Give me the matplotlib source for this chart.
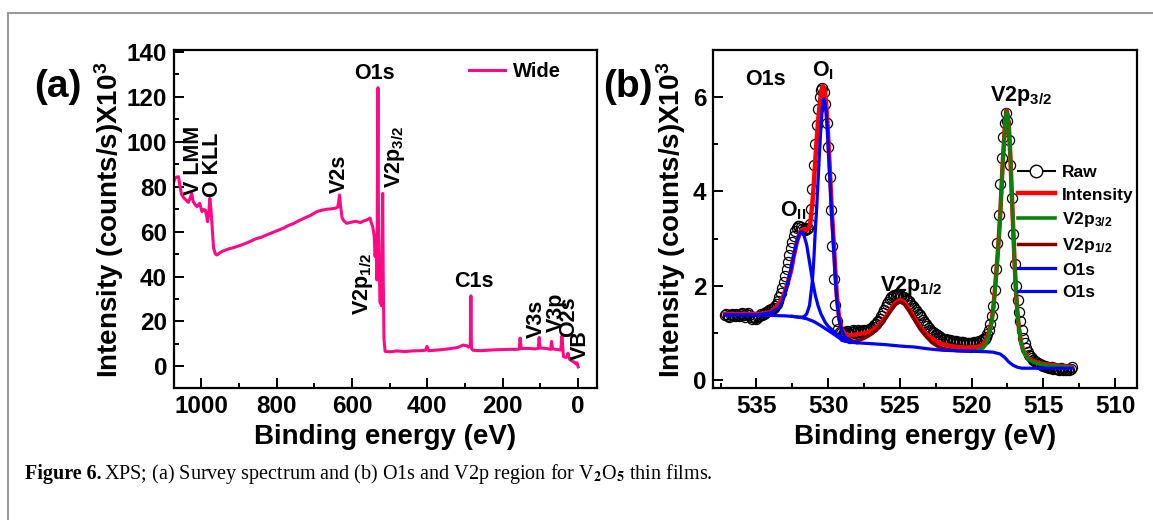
import numpy as np
import matplotlib
matplotlib.use('Agg')
import matplotlib.pyplot as plt
from matplotlib.lines import Line2D
from matplotlib.patches import Rectangle
from matplotlib.ticker import MultipleLocator

plt.rcParams['font.family'] = ['Liberation Sans', 'DejaVu Sans']
plt.rcParams['font.weight'] = 'bold'
plt.rcParams['mathtext.fontset'] = 'custom'
plt.rcParams['mathtext.rm'] = 'Liberation Sans:bold'
plt.rcParams['mathtext.it'] = 'Liberation Sans:bold'
plt.rcParams['mathtext.bf'] = 'Liberation Sans:bold'

# ---- (a) survey spectrum (eV, counts/s x1e3)
wide_be = [1072, 1068, 1064, 1060, 1056, 1052, 1046, 1040, 1034, 1030, 1025, 1021, 1016, 1011, 1004,
           998, 993, 989, 985, 983, 980, 977, 974, 970, 967, 962, 958, 952, 945, 935, 925, 915, 905,
           895, 885, 870, 855, 840, 825, 810, 795, 782, 770, 755, 740, 725, 710, 693, 680, 665, 655,
           645, 638, 635, 633, 630, 626, 621, 614, 600, 590, 578, 568, 560, 552, 548, 545, 541, 538.5,
           536, 534, 533, 531, 529.5, 528, 526.5, 525, 523.5, 522, 520, 518.5, 517, 515, 512, 500, 480,
           460, 440, 420, 405, 401, 397, 380, 360, 340, 320, 305, 296, 290, 286, 284.5, 283, 279, 260,
           240, 220, 200, 180, 160, 156, 154, 151, 130, 115, 106, 103.5, 101, 85, 73, 70.5, 68, 55, 46,
           43, 40.5, 39, 33, 29, 27, 25, 22, 18, 12, 8, 5, 3, 0]
wide_int = [82.5, 84.0, 84.3, 84.4, 80.0, 76.5, 75.0, 74.0, 73.0, 74.5, 77.0, 73.3, 72.0, 71.1, 72.6,
            68.9, 69.8, 69.6, 66.5, 64.4, 68.0, 74.8, 70.0, 60.0, 52.6, 50.0, 49.6, 50.4, 51.1, 51.8,
            52.4, 52.8, 53.4, 53.9, 54.6, 55.6, 56.8, 57.5, 58.6, 59.6, 60.6, 61.5, 62.6, 63.6, 64.9,
            66.1, 67.2, 68.9, 69.5, 70.0, 70.1, 70.4, 70.8, 73.5, 76.3, 71.0, 66.0, 64.7, 63.7, 64.2,
            64.6, 64.0, 64.8, 65.2, 66.0, 63.5, 62.2, 58.0, 48.9, 58.0, 38.5, 60.0, 124.0, 58.0, 45.0,
            36.0, 28.2, 45.0, 27.0, 55.0, 77.0, 40.0, 12.0, 6.7, 6.5, 6.9, 6.6, 6.9, 7.0, 7.2, 8.9, 7.0,
            7.2, 7.5, 7.9, 8.4, 9.5, 9.2, 8.6, 9.5, 31.4, 8.0, 7.2, 7.0, 7.2, 7.4, 7.5, 7.6, 7.6, 7.8,
            12.6, 8.0, 8.0, 7.8, 8.0, 12.9, 8.2, 8.0, 7.6, 11.1, 7.8, 7.5, 7.3, 13.6, 8.0, 4.4, 4.0,
            4.5, 5.9, 4.2, 3.0, 2.6, 2.0, 1.6, 1.0, 1.6, -0.2]

# ---- (b) O1s + V2p region; raw points every 0.1 eV starting at 537.2 eV
raw_int = [1.37, 1.39,
           1.36, 1.33, 1.37, 1.40, 1.38, 1.35, 1.41, 1.38, 1.36, 1.40,
           1.42, 1.37, 1.34, 1.39, 1.43, 1.38, 1.33, 1.30, 1.34, 1.31,
           1.29, 1.33, 1.36, 1.40, 1.38, 1.41, 1.43, 1.44, 1.46, 1.48,
           1.50, 1.50, 1.53, 1.57, 1.62, 1.68, 1.76, 1.85, 1.95, 2.07,
           2.20, 2.35, 2.50, 2.65, 2.80, 2.93, 3.05, 3.15, 3.22, 3.26,
           3.27, 3.24, 3.20, 3.18, 3.18, 3.20, 3.22, 3.30, 3.62, 4.05,
           4.55, 5.00, 5.40, 5.75, 6.00, 6.15, 6.19, 6.10, 5.85, 5.45,
           4.95, 4.30, 3.60, 2.85, 2.15, 1.60, 1.25, 1.08, 1.02, 1.00,
           0.98, 1.00, 1.02, 1.04, 1.00, 0.97, 1.01, 1.05, 1.03, 0.99,
           1.02, 1.06, 1.04, 1.01, 1.05, 1.03, 1.05, 1.07, 1.06, 1.08,
           1.10, 1.13, 1.16, 1.19, 1.22, 1.26, 1.30, 1.36, 1.42, 1.48,
           1.55, 1.61, 1.66, 1.71, 1.75, 1.78, 1.80, 1.81, 1.82, 1.81,
           1.80, 1.79, 1.77, 1.75, 1.72, 1.70, 1.67, 1.64, 1.60, 1.57,
           1.53, 1.49, 1.45, 1.41, 1.37, 1.33, 1.28, 1.24, 1.19, 1.15,
           1.11, 1.07, 1.04, 1.01, 0.99, 0.97, 0.95, 0.93, 0.91, 0.89,
           0.88, 0.87, 0.86, 0.85, 0.84, 0.84, 0.83, 0.83, 0.82, 0.82,
           0.81, 0.81, 0.80, 0.80, 0.80, 0.79, 0.79, 0.79, 0.79, 0.79,
           0.79, 0.79, 0.80, 0.80, 0.81, 0.82, 0.83, 0.84, 0.86, 0.88,
           0.92, 0.97, 1.05, 1.18, 1.35, 1.58, 1.90, 2.35, 2.90, 3.50,
           4.15, 4.70, 5.15, 5.45, 5.66, 5.50, 5.10, 4.55, 3.85, 3.10,
           2.45, 2.00, 1.70, 1.45, 1.25, 1.06, 0.90, 0.78, 0.68, 0.60,
           0.54, 0.50, 0.46, 0.43, 0.41, 0.38, 0.36, 0.34, 0.33, 0.31,
           0.30, 0.29, 0.27, 0.28, 0.26, 0.25, 0.27, 0.24, 0.25, 0.23,
           0.24, 0.22, 0.25, 0.23, 0.21, 0.24, 0.22, 0.23, 0.21, 0.24,
           0.28]
raw_be = 537.2 - 0.1 * np.arange(len(raw_int))

fit_be = [537.2, 536, 535, 534.5, 534, 533.6, 533.2, 532.9, 532.6, 532.4, 532.2, 532.0, 531.85, 531.7,
          531.5, 531.35, 531.25, 531.1, 531.0, 530.9, 530.8, 530.7, 530.6, 530.5, 530.4, 530.35, 530.25,
          530.15, 530.05, 529.95, 529.85, 529.75, 529.6, 529.5, 529.4, 529.25, 529.1, 528.9, 528.7,
          528.3, 528, 527.5, 527, 526.5, 526, 525.6, 525.3, 525.0, 524.7, 524.4, 524.0, 523.6, 523.2,
          522.8, 522.4, 522, 521.5, 521, 520.5, 520, 519.5, 519.2, 519, 518.8, 518.6, 518.45, 518.3,
          518.15, 518.0, 517.85, 517.7, 517.58, 517.5, 517.4, 517.3, 517.2, 517.1, 517.0, 516.9, 516.8,
          516.7, 516.55, 516.4, 516.2, 516.0, 515.7, 515.3, 515, 514.5, 514, 513.5, 513]
fit_int = [1.40, 1.40, 1.40, 1.41, 1.44, 1.55, 1.72, 1.98, 2.30, 2.62, 2.90, 3.10, 3.18, 3.20, 3.18,
           3.22, 3.32, 3.75, 4.15, 4.65, 5.10, 5.50, 5.82, 6.08, 6.22, 6.24, 6.15, 5.90, 5.45, 4.85,
           4.25, 3.60, 2.85, 2.30, 1.80, 1.35, 1.12, 1.00, 0.95, 0.95, 0.97, 0.99, 1.04, 1.15, 1.33,
           1.52, 1.64, 1.70, 1.65, 1.52, 1.32, 1.13, 0.99, 0.89, 0.81, 0.76, 0.72, 0.70, 0.69, 0.69,
           0.71, 0.76, 0.83, 1.00, 1.25, 1.65, 2.20, 2.80, 3.55, 4.50, 5.30, 5.72, 5.65, 5.35, 4.75,
           3.95, 3.20, 2.45, 1.85, 1.40, 1.10, 0.80, 0.62, 0.52, 0.45, 0.40, 0.36, 0.34, 0.32, 0.30,
           0.29, 0.28]

v32_be = [520, 519.5, 519.2, 519, 518.8, 518.6, 518.45, 518.3, 518.15, 518.0, 517.85, 517.7, 517.58,
          517.5, 517.4, 517.3, 517.2, 517.1, 517.0, 516.9, 516.8, 516.7, 516.55, 516.4, 516.2, 516.0,
          515.7, 515.3, 515, 514.5, 514, 513.5, 513]
v32_int = [0.61, 0.63, 0.68, 0.75, 0.95, 1.22, 1.62, 2.18, 2.78, 3.53, 4.48, 5.28, 5.70, 5.63, 5.33,
           4.73, 3.93, 3.18, 2.43, 1.83, 1.38, 1.08, 0.78, 0.60, 0.50, 0.43, 0.38, 0.34, 0.32, 0.30,
           0.29, 0.28, 0.27]

v12_be = [529, 528.5, 528, 527.5, 527, 526.5, 526, 525.6, 525.3, 525.0, 524.7, 524.4, 524.0, 523.6,
          523.2, 522.8, 522.4, 522, 521.5, 521, 520.5, 520]
v12_int = [0.84, 0.81, 0.83, 0.88, 0.97, 1.10, 1.30, 1.48, 1.60, 1.66, 1.61, 1.48, 1.28, 1.08, 0.93,
           0.80, 0.72, 0.67, 0.64, 0.62, 0.615, 0.61]

o2_be = [537.2, 535, 534.5, 534, 533.5, 533.2, 533, 532.8, 532.6, 532.4, 532.2, 532.0, 531.85, 531.7,
         531.5, 531.3, 531.1, 530.9, 530.7, 530.5, 530.2, 530.0, 529.6, 529.2, 528.8, 528.5]
o2_int = [1.38, 1.38, 1.40, 1.43, 1.52, 1.65, 1.84, 2.08, 2.35, 2.65, 2.92, 3.10, 3.15, 3.08, 2.87,
          2.50, 2.12, 1.80, 1.57, 1.40, 1.22, 1.14, 1.03, 0.92, 0.86, 0.80]

o1_be = [532.5, 532, 531.7, 531.5, 531.3, 531.1, 531.0, 530.9, 530.8, 530.7, 530.6, 530.5, 530.4,
         530.32, 530.25, 530.15, 530.05, 529.95, 529.85, 529.75, 529.6, 529.5, 529.4, 529.25, 529.1,
         528.9, 528.7, 528.5, 528.0]
o1_int = [1.35, 1.33, 1.34, 1.40, 1.58, 2.10, 2.55, 3.15, 3.65, 4.25, 4.85, 5.38, 5.80, 5.97, 5.92,
          5.70, 5.30, 4.70, 4.10, 3.45, 2.69, 2.15, 1.70, 1.30, 1.10, 0.95, 0.88, 0.82, 0.79]

bg_be = [537.2, 536, 535, 534, 533, 532.5, 532, 531.5, 531, 530.5, 530, 529.5, 529, 528.5, 528, 527,
         526, 525, 524, 523, 522, 521, 520, 519, 518.5, 518, 517.7, 517.4, 517.1, 516.8, 516.5, 516,
         515, 514, 513]
bg_int = [1.38, 1.38, 1.37, 1.37, 1.36, 1.35, 1.33, 1.30, 1.24, 1.15, 1.05, 0.95, 0.84, 0.80, 0.79,
          0.77, 0.75, 0.72, 0.70, 0.66, 0.63, 0.62, 0.61, 0.60, 0.59, 0.55, 0.48, 0.38, 0.31, 0.27,
          0.25, 0.25, 0.25, 0.25, 0.25]

W, H = 1153, 520
fig = plt.figure(figsize=(W / 100, H / 100), dpi=100)

# grey frame round the figure
fig.add_artist(Rectangle((8 / W, -0.2), 1.2, 1.2 - 13 / H, transform=fig.transFigure,
                         fill=False, edgecolor='#9a9a9a', lw=1.5))

def style(ax):
    for s in ax.spines.values():
        s.set_linewidth(1.6)
    ax.tick_params(which='both', direction='in', top=False, right=False, width=1.4,
                   labelsize=17.5)
    ax.tick_params(which='major', length=7)
    ax.tick_params(which='minor', length=3.5)
    ax.tick_params(axis='x', pad=5)
    ax.tick_params(axis='y', pad=5)

# ---------------- (a)
ax1 = fig.add_axes([174 / W, 1 - 388 / H, 423 / W, 338 / H])
ax1.plot(wide_be, wide_int, color='#ff0a84', lw=2.2, label='Wide')
ax1.set_xlim(1072, -50)
ax1.set_ylim(-9.6, 140.8)
ax1.xaxis.set_major_locator(MultipleLocator(200))
ax1.xaxis.set_minor_locator(MultipleLocator(100))
ax1.yaxis.set_major_locator(MultipleLocator(20))
ax1.yaxis.set_minor_locator(MultipleLocator(10))
style(ax1)
ax1.legend(loc='upper left', bbox_to_anchor=(0.697, 0.965), frameon=False, fontsize=14.5,
           handlelength=1.8, handletextpad=0.4, borderpad=0, borderaxespad=0)

fs = 15.5
ax1.text(541, 130.5, 'O1s', fontsize=fs, ha='center', va='center')
ax1.text(276, 37.6, 'C1s', fontsize=fs, ha='center', va='center')
rot_labels = [('V LMM', 1021, 76.3), ('O KLL', 971, 75.4), ('V2s', 634, 77.2),
              (r'V2p$_{3/2}$', 486, 79.4), (r'V2p$_{1/2}$', 571, 23.0), ('V3s', 112, 12.8),
              ('V3p', 58, 15.5), ('O2s', 26, 13.2), ('VB', -6, 3.0)]
for s, x, y in rot_labels:
    ax1.text(x, y, s, fontsize=fs, rotation=90, ha='center', va='bottom')

fig.text(58 / W, 1 - 87 / H, '(a)', fontsize=28, ha='center', va='center')
fig.text(109 / W, 1 - 220 / H, r'Intensity (counts/s)X10$^3$', fontsize=20, rotation=90,
         ha='center', va='center')
fig.text(385.5 / W, 1 - 437 / H, 'Binding energy (eV)', fontsize=20, ha='center', va='center')

# ---------------- (b)
ax2 = fig.add_axes([713.4 / W, 1 - 388 / H, 423.2 / W, 338 / H])
ax2.plot(raw_be, raw_int, ls='none', marker='o', ms=7.3, mfc='none', mec='black', mew=0.9,
         zorder=1)
l_fit, = ax2.plot(fit_be, fit_int, color='#ff0000', lw=3.2, zorder=2)
l_v12, = ax2.plot(v12_be, v12_int, color='#800000', lw=2.5, zorder=3)
l_v32, = ax2.plot(v32_be, v32_int, color='#0a820a', lw=2.6, zorder=4)
ax2.plot(bg_be, bg_int, color='#0000ff', lw=2.3, zorder=5)
l_o2, = ax2.plot(o2_be, o2_int, color='#0000ff', lw=2.3, zorder=5)
l_o1, = ax2.plot(o1_be, o1_int, color='#0000ff', lw=2.3, zorder=5)
ax2.set_xlim(538.0, 508.5)
ax2.set_ylim(-0.17, 7.0)
ax2.xaxis.set_major_locator(MultipleLocator(5))
ax2.xaxis.set_minor_locator(MultipleLocator(2.5))
ax2.yaxis.set_major_locator(MultipleLocator(2))
ax2.yaxis.set_minor_locator(MultipleLocator(1))
style(ax2)

raw_h = Line2D([], [], color='black', lw=1.5, marker='o', ms=9, mfc='white', mec='black', mew=1)
ax2.legend([raw_h, l_fit, l_v32, l_v12, l_o2, l_o1],
           ['Raw', 'Intensity', r'V2p$_{3/2}$', r'V2p$_{1/2}$', 'O1s', 'O1s'],
           loc='upper left', bbox_to_anchor=(0.72, 0.66), frameon=False, fontsize=12.5,
           handlelength=2.1, handletextpad=0.45, labelspacing=0.42, borderpad=0, borderaxespad=0)

ax2.text(535.78, 6.26, 'O1s', fontsize=fs, ha='left', va='baseline')
ax2.text(531.13, 6.45, r'O$_\mathrm{I}$', fontsize=fs, ha='left', va='baseline')
ax2.text(533.35, 3.46, r'O$_\mathrm{II}$', fontsize=fs, ha='left', va='baseline')
ax2.text(526.37, 1.89, r'V2p$_{1/2}$', fontsize=fs, ha='left', va='baseline')
ax2.text(518.74, 5.92, r'V2p$_{3/2}$', fontsize=fs, ha='left', va='baseline')

fig.text(628 / W, 1 - 87 / H, '(b)', fontsize=28, ha='center', va='center')
fig.text(671 / W, 1 - 220 / H, r'Intensity (counts/s)X10$^3$', fontsize=20, rotation=90,
         ha='center', va='center')
fig.text(925 / W, 1 - 437 / H, 'Binding energy (eV)', fontsize=20, ha='center', va='center')

# ---------------- caption
cap1 = fig.text(25 / W, 1 - 474 / H, 'Figure 6.', family='Liberation Serif', weight='bold',
                fontsize=14.5, va='center')
r = fig.canvas.get_renderer()
bb = cap1.get_window_extent(renderer=r)
fig.text(bb.x1 / W + 2 / W, 1 - 474 / H,
         'XPS; (a) Survey spectrum and (b) O1s and V2p region for V$_2$O$_5$ thin films.',
         family='Liberation Serif', weight='normal', fontsize=14.5, va='center',
         math_fontfamily='stix')

fig.savefig('out.png', dpi=100)
